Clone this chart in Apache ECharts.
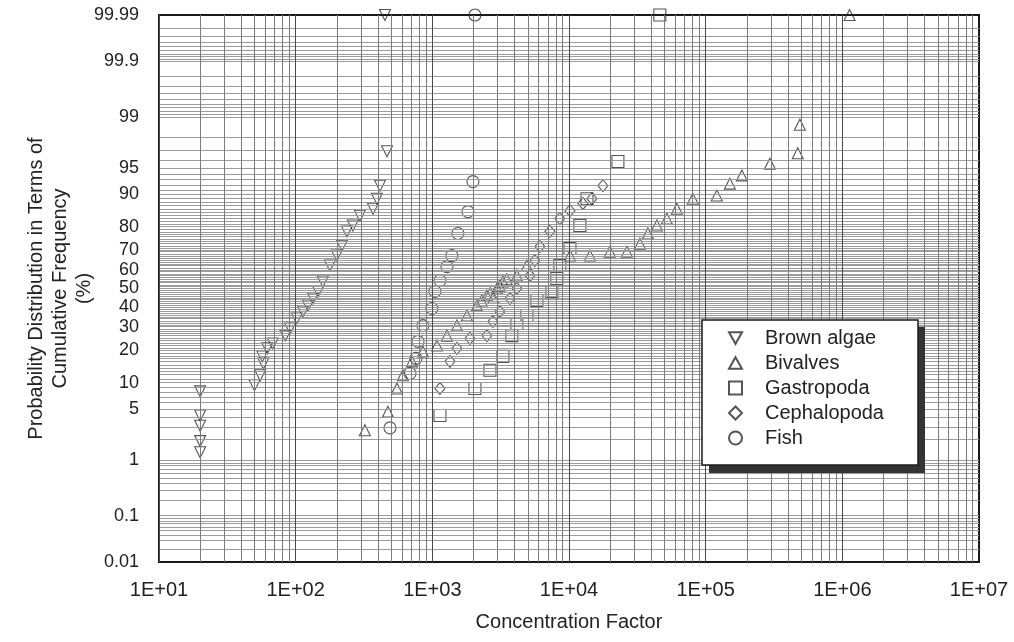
<!DOCTYPE html>
<html>
<head>
<meta charset="utf-8">
<title>Concentration Factor - cumulative frequency</title>
<script src="https://cdn.jsdelivr.net/npm/echarts@6/dist/echarts.min.js"></script>
<style>
  html, body { margin: 0; padding: 0; background: #fff; }
  #chart { width: 1014px; height: 642px; }
</style>
</head>
<body>
<div id="chart"></div>
<script>
// tick labels
const yTickLabels = [0.01, 0.1, 1, 5, 10, 20, 30, 40, 50, 60, 70, 80, 90, 95, 99, 99.9, 99.99]
const xTickLabels = ['1E+01', '1E+02', '1E+03', '1E+04', '1E+05', '1E+06', '1E+07']

// series: concentration factor + cumulative frequency (%)
const brownAlgaeCF = [20, 20, 20, 20, 20, 50, 55, 58, 57, 62, 68, 84, 91, 102, 113, 123, 134, 146, 158, 178, 200, 218, 237, 262, 295, 368, 393, 414, 466, 450]
const brownAlgaePct = [1.3, 1.9, 3.1, 4.2, 8.1, 9.4, 11.9, 15.4, 17.8, 20.8, 22.7, 26.1, 29.3, 34.2, 37.7, 40.9, 44.6, 48.4, 53.8, 62.3, 67.3, 72.0, 78.1, 80.4, 83.9, 86.1, 88.9, 91.9, 96.9, 99.99]

const bivalvesCF = [321, 473, 551, 609, 709, 853, 1081, 1279, 1514, 1791, 2120, 2300, 2508, 2650, 2800, 2970, 3100, 3284, 3500, 4156, 4920, 10160, 14230, 19910, 26530, 33040, 37780, 43970, 52030, 61550, 80560, 120700, 150300, 184000, 295000, 472000, 489000, 1130000]
const bivalvesPct = [2.7, 4.7, 8.7, 11.9, 16.1, 19.6, 21.9, 26.1, 30.7, 35.7, 40.9, 43.5, 46.2, 47.5, 45.0, 50.0, 51.5, 53.8, 55.0, 57.0, 62.3, 67.3, 67.3, 69.2, 69.2, 72.9, 77.3, 80.4, 82.9, 86.1, 88.9, 89.7, 92.3, 93.8, 95.5, 96.7, 98.7, 99.99]

const gastropodaCF = [1137, 2050, 2640, 3284, 3820, 4156, 4920, 5820, 7500, 8150, 8570, 10160, 12020, 13530, 22800, 46200]
const gastropodaPct = [4.2, 8.7, 13.3, 17.8, 26.1, 31.7, 35.7, 43.5, 48.4, 55.4, 62.3, 70.7, 80.4, 88.9, 95.8, 99.99]

const cephalopodaCF = [1137, 1346, 1514, 1884, 2508, 2773, 3120, 3700, 4156, 5180, 5630, 6120, 7250, 8570, 10160, 12640, 14720, 17700]
const cephalopodaPct = [8.7, 16.1, 20.8, 24.9, 26.1, 32.7, 37.7, 44.6, 50.0, 57.0, 64.8, 71.6, 78.1, 82.9, 85.5, 87.6, 88.9, 91.9]

const fishCF = [490, 686, 759, 785, 853, 993, 1045, 1137, 1279, 1390, 1538, 1821, 1982, 2050]
const fishPct = [2.9, 12.4, 17.1, 23.6, 30.7, 39.3, 48.4, 54.3, 61.7, 67.3, 77.3, 85.2, 92.7, 99.99]

// inverse of the normal cdf (Acklam), used for the probability-paper y scale
function probit (p) {
  const a = [-3.969683028665376e+01, 2.209460984245205e+02, -2.759285104469687e+02, 1.383577518672690e+02, -3.066479806614716e+01, 2.506628277459239e+00]
  const b = [-5.447609879822406e+01, 1.615858368580409e+02, -1.556989798598866e+02, 6.680131188771972e+01, -1.328068155288572e+01]
  const c = [-7.784894002430293e-03, -3.223964580411365e-01, -2.400758277161838e+00, -2.549732539343734e+00, 4.374664141464968e+00, 2.938163982698783e+00]
  const d = [7.784695709041462e-03, 3.224671290700398e-01, 2.445134137142996e+00, 3.754408661907416e+00]
  const pl = 0.02425
  let q, r
  if (p < pl) {
    q = Math.sqrt(-2 * Math.log(p))
    return (((((c[0] * q + c[1]) * q + c[2]) * q + c[3]) * q + c[4]) * q + c[5]) / ((((d[0] * q + d[1]) * q + d[2]) * q + d[3]) * q + 1)
  }
  if (p > 1 - pl) {
    q = Math.sqrt(-2 * Math.log(1 - p))
    return -(((((c[0] * q + c[1]) * q + c[2]) * q + c[3]) * q + c[4]) * q + c[5]) / ((((d[0] * q + d[1]) * q + d[2]) * q + d[3]) * q + 1)
  }
  q = p - 0.5
  r = q * q
  return (((((a[0] * r + a[1]) * r + a[2]) * r + a[3]) * r + a[4]) * r + a[5]) * q / (((((b[0] * r + b[1]) * r + b[2]) * r + b[3]) * r + b[4]) * r + 1)
}
const toY = pct => probit(pct / 100)

const yMin = toY(0.01)
const yMax = toY(99.99)

// probability paper rulings
const hLines = []
for (let i = 1; i <= 9; i++) hLines.push(+(i * 0.01).toFixed(2))
for (let i = 1; i <= 9; i++) hLines.push(+(i * 0.1).toFixed(1))
for (let i = 1; i <= 99; i++) hLines.push(i)
for (let i = 1; i <= 9; i++) hLines.push(+(99 + i * 0.1).toFixed(1))
for (let i = 1; i <= 8; i++) hLines.push(+(99.9 + i * 0.01).toFixed(2))
const vLines = []
for (let e = 1; e <= 6; e++) {
  for (let m = 1; m <= 9; m++) vLines.push(m * Math.pow(10, e))
}

function pairs (xs, ys) {
  return xs.map((x, i) => [x, toY(ys[i])])
}

const hollow = {
  color: 'rgba(255,255,255,0)',
  borderColor: '#2b2b2b',
  borderWidth: 1.1
}

const chart = echarts.init(document.getElementById('chart'), null, { renderer: 'canvas' })

const option = {
  animation: false,
  backgroundColor: '#fff',
  textStyle: { fontFamily: 'Liberation Sans, Arial, sans-serif', color: '#222' },
  grid: {
    left: 159,
    right: 35,
    top: 15,
    bottom: 80,
    show: true,
    borderColor: '#1a1a1a',
    borderWidth: 2,
    backgroundColor: 'rgba(0,0,0,0)'
  },
  // legend box with its drop shadow
  graphic: [
    {
      type: 'rect',
      z: 20,
      silent: true,
      shape: { x: 709, y: 327, width: 216, height: 146 },
      style: { fill: '#333' }
    },
    {
      type: 'rect',
      z: 21,
      silent: true,
      shape: { x: 702, y: 320, width: 216, height: 145 },
      style: { fill: '#fff', stroke: '#1a1a1a', lineWidth: 1.5 }
    }
  ],
  xAxis: {
    type: 'log',
    logBase: 10,
    min: 10,
    max: 1e7,
    name: 'Concentration Factor',
    nameLocation: 'middle',
    nameGap: 50,
    nameMoveOverlap: false,
    nameTextStyle: { fontSize: 20, color: '#222' },
    axisLine: { show: false },
    axisTick: { show: false },
    splitLine: { show: false },
    minorSplitLine: { show: false },
    axisLabel: {
      fontSize: 20,
      color: '#222',
      margin: 18,
      formatter: v => xTickLabels[Math.round(Math.log10(v)) - 1] || ''
    }
  },
  yAxis: {
    type: 'value',
    min: yMin,
    max: yMax,
    name: 'Probability Distribution in Terms of\nCumulative Frequency\n(%)',
    nameLocation: 'middle',
    nameRotate: 90,
    nameGap: 63,
    nameMoveOverlap: false,
    nameTextStyle: { fontSize: 20, lineHeight: 24, color: '#222' },
    axisLine: { show: false },
    axisTick: { show: false },
    splitLine: { show: false },
    axisLabel: {
      fontSize: 18,
      color: '#222',
      margin: 20,
      customValues: yTickLabels.map(toY),
      formatter: v => {
        let best = yTickLabels[0]
        yTickLabels.forEach(t => {
          if (Math.abs(toY(t) - v) < Math.abs(toY(best) - v)) best = t
        })
        return String(best)
      }
    }
  },
  legend: {
    data: [
      { name: 'Brown algae', icon: 'path://M0,0 L10,0 L5,9 Z' },
      { name: 'Bivalves', icon: 'path://M5,0 L10,9 L0,9 Z' },
      'Gastropoda',
      'Cephalopoda',
      'Fish'
    ],
    orient: 'vertical',
    left: 702,
    top: 320,
    z: 30,
    padding: [8, 40, 16, 26],
    itemGap: 5,
    itemWidth: 13,
    itemHeight: 13,
    textStyle: { fontSize: 20, color: '#222', lineHeight: 20, padding: [0, 0, 0, 18] }
  },
  series: [
    {
      // grid rulings
      type: 'scatter',
      name: 'grid',
      data: [],
      silent: true,
      z: 1,
      markLine: {
        silent: true,
        symbol: 'none',
        animation: false,
        label: { show: false },
        emphasis: { disabled: true },
        data: hLines.map(p => ({
          yAxis: toY(p),
          lineStyle: { color: '#9c9c9c', width: 1, type: 'solid' }
        })).concat(vLines.map(v => ({
          xAxis: v,
          lineStyle: { color: String(v).charAt(0) === '1' ? '#4a4a4a' : '#7a7a7a', width: 1, type: 'solid' }
        })))
      }
    },
    {
      name: 'Brown algae',
      type: 'scatter',
      symbol: 'triangle',
      symbolRotate: 180,
      symbolSize: 11,
      itemStyle: hollow,
      z: 3,
      data: pairs(brownAlgaeCF, brownAlgaePct)
    },
    {
      name: 'Bivalves',
      type: 'scatter',
      symbol: 'triangle',
      symbolSize: 11,
      itemStyle: hollow,
      z: 3,
      data: pairs(bivalvesCF, bivalvesPct)
    },
    {
      name: 'Gastropoda',
      type: 'scatter',
      symbol: 'rect',
      symbolSize: 12,
      itemStyle: hollow,
      z: 3,
      data: pairs(gastropodaCF, gastropodaPct)
    },
    {
      name: 'Cephalopoda',
      type: 'scatter',
      symbol: 'diamond',
      symbolSize: [10, 12],
      itemStyle: hollow,
      z: 3,
      data: pairs(cephalopodaCF, cephalopodaPct)
    },
    {
      name: 'Fish',
      type: 'scatter',
      symbol: 'circle',
      symbolSize: 12,
      itemStyle: hollow,
      z: 3,
      data: pairs(fishCF, fishPct)
    }
  ]
}

chart.setOption(option)
</script>
</body>
</html>
